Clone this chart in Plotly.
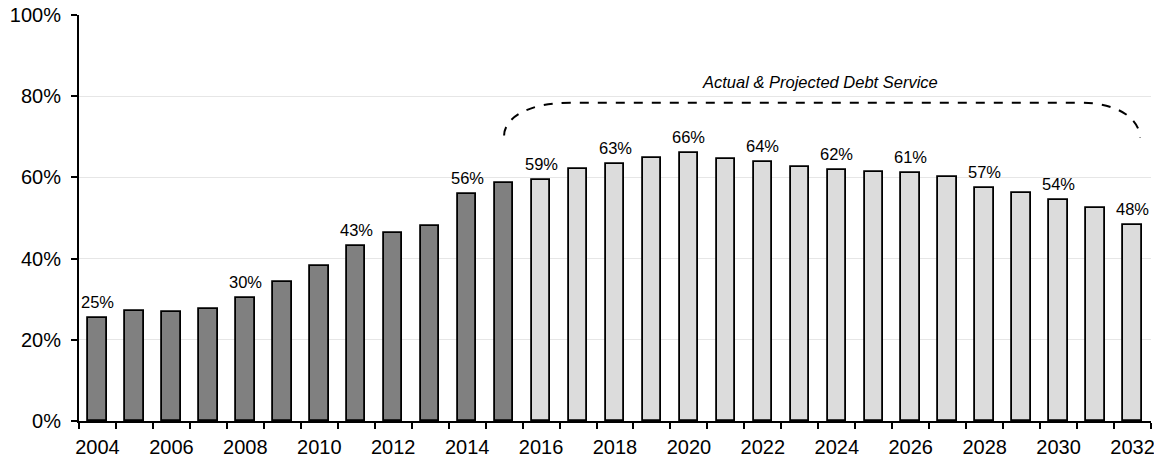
import plotly.graph_objects as go

years = list(range(2004, 2033))
values = [25.3, 27.2, 26.8, 27.7, 30.3, 34.2, 38.1, 43.1, 46.4, 48.0, 56.0, 58.5,
          59.3, 62.1, 63.4, 64.9, 65.9, 64.6, 63.8, 62.6, 61.9, 61.3, 61.0, 60.1,
          57.5, 56.2, 54.5, 52.5, 48.2]
actual_last_year = 2015
label_years = [2004, 2008, 2011, 2014, 2016, 2018, 2020, 2022, 2024, 2026, 2028, 2030, 2032]
label_texts = ["25%", "30%", "43%", "56%", "59%", "63%", "66%", "64%", "62%", "61%", "57%", "54%", "48%"]
y_ticks = [0, 20, 40, 60, 80, 100]
y_tick_labels = ["0%", "20%", "40%", "60%", "80%", "100%"]
x_tick_years = list(range(2004, 2033, 2))
bracket_text = "Actual & Projected Debt Service"

FONT = "Liberation Sans, Arial, sans-serif"
colors = ["#808080" if y <= actual_last_year else "#dcdcdc" for y in years]

fig = go.Figure()
fig.add_trace(go.Bar(
    x=years, y=values, width=0.5,
    marker=dict(color=colors, line=dict(color="black", width=1.8)),
    hoverinfo="skip",
))
for yr, txt in zip(label_years, label_texts):
    fig.add_annotation(x=yr, y=values[years.index(yr)], xref="x", yref="y",
                       text=txt, showarrow=False, yanchor="bottom", yshift=5,
                       font=dict(family=FONT, size=16.5, color="black"))

# dashed bracket
x0, x1 = 2015.0, 2032.2
y_end, y_top = 70.3, 78.4
path = (f"M {x0},{y_end} C {x0},{y_top - 4} {x0 + 0.6},{y_top} {x0 + 1.8},{y_top} "
        f"L {x1 - 1.6},{y_top} C {x1 - 0.6},{y_top} {x1},{y_top - 4} {x1},{y_end - 0.5}")
fig.add_shape(type="path", path=path, xref="x", yref="y",
              line=dict(color="black", width=2, dash="dash"))
fig.add_annotation(x=2023.55, y=83.4, xref="x", yref="y",
                   text=f"<i>{bracket_text}</i>", showarrow=False,
                   font=dict(family=FONT, size=16.5, color="black"))

fig.update_layout(
    width=1154, height=458,
    margin=dict(l=79, r=3, t=15, b=37, autoexpand=False),
    plot_bgcolor="white", paper_bgcolor="white",
    showlegend=False,
    bargap=0,
)
fig.update_xaxes(
    range=[2003.5, 2032.5], automargin=False,
    tickvals=x_tick_years, ticktext=[str(y) for y in x_tick_years],
    ticklabeloverflow="allow", ticklabelstandoff=7,
    ticks="", showgrid=False,
    showline=True, linecolor="black", linewidth=2,
    tickfont=dict(family=FONT, size=20, color="black"),
    minor=dict(tick0=2003.5, dtick=1, ticks="outside", ticklen=6, tickcolor="black", tickwidth=2, showgrid=False),
    zeroline=False,
)
fig.update_yaxes(
    range=[0, 100], automargin=False,
    tickvals=y_ticks, ticktext=y_tick_labels,
    ticklabelstandoff=6,
    ticks="outside", ticklen=6, tickcolor="black", tickwidth=2,
    showline=True, linecolor="black", linewidth=2,
    showgrid=True, gridcolor="#e6e6e6", gridwidth=1.2,
    tickfont=dict(family=FONT, size=20, color="black"),
    zeroline=False,
)

fig.write_html("out.html", config={"displayModeBar": False},
               post_script="document.body.style.margin='0';document.body.style.overflow='hidden';")
